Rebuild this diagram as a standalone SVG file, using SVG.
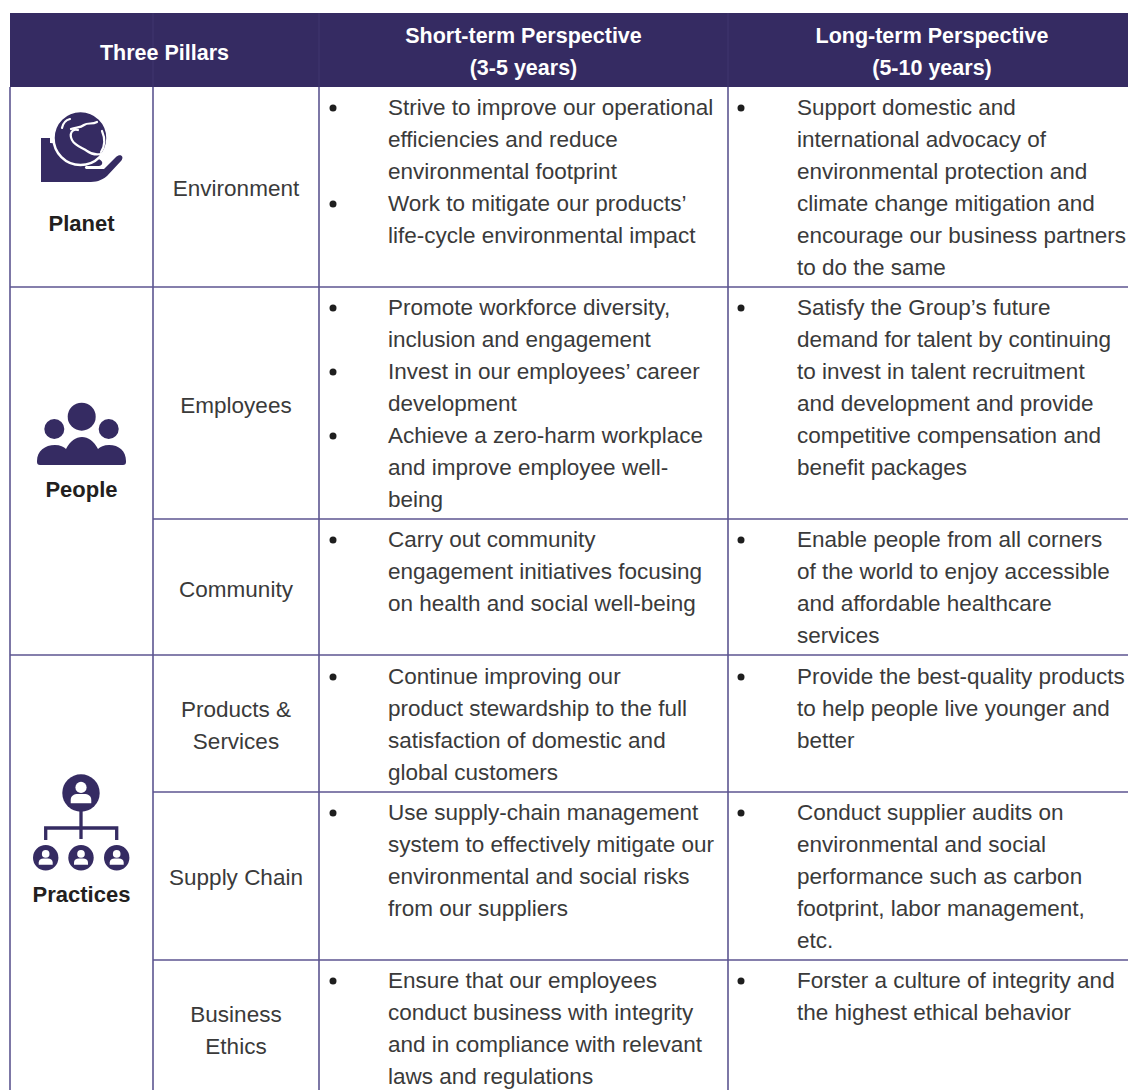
<svg xmlns="http://www.w3.org/2000/svg" xmlns:xlink="http://www.w3.org/1999/xlink" width="1128" height="1090" viewBox="0 0 1128 1090">
<style>
.t{font-family:"Liberation Sans",Arial,sans-serif;font-size:22.5px;fill:#3a3a3a}
.c{text-anchor:middle}
.h{font-family:"Liberation Sans",Arial,sans-serif;font-size:21.5px;font-weight:bold;fill:#ffffff;text-anchor:middle}
.p{font-family:"Liberation Sans",Arial,sans-serif;font-size:22px;font-weight:bold;fill:#231f20;text-anchor:middle}
.g{stroke:#5c5590;stroke-width:1.6;fill:none}
.b{fill:#1e1e1e}
.ic{fill:#352b62}
.w{fill:none;stroke:#ffffff;stroke-width:2.2;stroke-linecap:round}
</style>
<defs>
<g id="avatar">
<circle r="1" class="ic"/>
<circle cx="0" cy="-0.3" r="0.3" fill="#fff"/>
<path d="M-0.55,0.55 L-0.55,0.38 C-0.55,0.16 -0.38,0.06 -0.16,0.06 L0.16,0.06 C0.38,0.06 0.55,0.16 0.55,0.38 L0.55,0.55 Z" fill="#fff"/>
</g>
<circle id="dot" r="3.5" class="b"/>
</defs>
<rect width="1128" height="1090" fill="#ffffff"/>

<g id="header">
<rect x="10" y="13" width="1118" height="74" fill="#352b62"/>
<line x1="153" y1="13" x2="153" y2="87" stroke="#40376e" stroke-width="1"/>
<line x1="319" y1="13" x2="319" y2="87" stroke="#40376e" stroke-width="1"/>
<line x1="728" y1="13" x2="728" y2="87" stroke="#40376e" stroke-width="1"/>
<text class="h" x="164.5" y="60">Three Pillars</text>
<text class="h" x="523.5" y="43">Short-term Perspective</text>
<text class="h" x="523.5" y="75">(3-5 years)</text>
<text class="h" x="932" y="43">Long-term Perspective</text>
<text class="h" x="932" y="75">(5-10 years)</text>
</g>

<g id="grid">
<line class="g" x1="10" y1="87" x2="10" y2="1090"/>
<line class="g" x1="153" y1="87" x2="153" y2="1090"/>
<line class="g" x1="319" y1="87" x2="319" y2="1090"/>
<line class="g" x1="728" y1="87" x2="728" y2="1090"/>
<line class="g" x1="10" y1="287" x2="1128" y2="287"/>
<line class="g" x1="153" y1="519" x2="1128" y2="519"/>
<line class="g" x1="10" y1="655" x2="1128" y2="655"/>
<line class="g" x1="153" y1="792" x2="1128" y2="792"/>
<line class="g" x1="153" y1="960" x2="1128" y2="960"/>
</g>

<g id="pillar-planet">
<rect x="41" y="138" width="9" height="44" class="ic"/>
<path class="ic" d="M50,143 C60,143 67,150 75,156 L98,159 C103,160 104,165 99,166 L86,166 C84,167 85,169 87,169 L104,169 L116,157 C120,153 125,156 121,161 L107,176 C101,181 96,182 88,182 L50,182 Z"/>
<circle cx="80.5" cy="138" r="27" class="ic" stroke="#fff" stroke-width="2.5"/>
<path class="w" d="M78,130 C72,128 69,134 72,140 C75,146 83,148 87,151 C91,154 96,155 101,154"/>
<path class="w" d="M71,129 C76,127 80,128 84,125 C88,122 92,125 97,122"/>
<path class="w" d="M62,128 C63,123 66,120 70,119"/>
<path class="w" d="M102,131 C105,138 105,146 101,152"/>
<text class="p" x="81.5" y="231">Planet</text>
</g>

<g id="pillar-people">
<circle cx="81.7" cy="416.7" r="14" class="ic"/>
<circle cx="54.3" cy="429" r="10" class="ic"/>
<circle cx="108.7" cy="429" r="10" class="ic"/>
<path class="ic" d="M37,461 C37,451 45,445 55,445 C60,445 64,447 66,449 C70,441 76,437 82,437 C88,437 94,441 98,449 C100,447 104,445 109,445 C119,445 126,451 126,461 L126,462 Q126,465 123,465 L40,465 Q37,465 37,462 Z"/>
<text class="p" x="81.5" y="497">People</text>
</g>

<g id="pillar-practices">
<use xlink:href="#avatar" href="#avatar" transform="translate(81,793) scale(18.7)"/>
<path d="M81,811 V839 M45.7,840 V828 H116.7 V840" fill="none" stroke="#352b62" stroke-width="3.3"/>
<use xlink:href="#avatar" href="#avatar" transform="translate(45.7,857.7) scale(12.7)"/>
<use xlink:href="#avatar" href="#avatar" transform="translate(81,857.7) scale(12.7)"/>
<use xlink:href="#avatar" href="#avatar" transform="translate(116.7,857.7) scale(12.7)"/>
<text class="p" x="81.5" y="902">Practices</text>
</g>

<g id="row-environment">
<text class="t c" x="236" y="196">Environment</text>
<use href="#dot" xlink:href="#dot" x="333" y="108"/>
<use href="#dot" xlink:href="#dot" x="333" y="204"/>
<text class="t" x="388" y="115">Strive to improve our operational</text>
<text class="t" x="388" y="147">efficiencies and reduce</text>
<text class="t" x="388" y="179">environmental footprint</text>
<text class="t" x="388" y="211">Work to mitigate our products’</text>
<text class="t" x="388" y="243">life-cycle environmental impact</text>
<use href="#dot" xlink:href="#dot" x="741" y="108"/>
<text class="t" x="797" y="115">Support domestic and</text>
<text class="t" x="797" y="147">international advocacy of</text>
<text class="t" x="797" y="179">environmental protection and</text>
<text class="t" x="797" y="211">climate change mitigation and</text>
<text class="t" x="797" y="243">encourage our business partners</text>
<text class="t" x="797" y="275">to do the same</text>
</g>

<g id="row-employees">
<text class="t c" x="236" y="413">Employees</text>
<use href="#dot" xlink:href="#dot" x="333" y="308"/>
<use href="#dot" xlink:href="#dot" x="333" y="372"/>
<use href="#dot" xlink:href="#dot" x="333" y="436"/>
<text class="t" x="388" y="315">Promote workforce diversity,</text>
<text class="t" x="388" y="347">inclusion and engagement</text>
<text class="t" x="388" y="379">Invest in our employees’ career</text>
<text class="t" x="388" y="411">development</text>
<text class="t" x="388" y="443">Achieve a zero-harm workplace</text>
<text class="t" x="388" y="475">and improve employee well-</text>
<text class="t" x="388" y="507">being</text>
<use href="#dot" xlink:href="#dot" x="741" y="308"/>
<text class="t" x="797" y="315">Satisfy the Group’s future</text>
<text class="t" x="797" y="347">demand for talent by continuing</text>
<text class="t" x="797" y="379">to invest in talent recruitment</text>
<text class="t" x="797" y="411">and development and provide</text>
<text class="t" x="797" y="443">competitive compensation and</text>
<text class="t" x="797" y="475">benefit packages</text>
</g>

<g id="row-community">
<text class="t c" x="236" y="597">Community</text>
<use href="#dot" xlink:href="#dot" x="333" y="540"/>
<text class="t" x="388" y="547">Carry out community</text>
<text class="t" x="388" y="579">engagement initiatives focusing</text>
<text class="t" x="388" y="611">on health and social well-being</text>
<use href="#dot" xlink:href="#dot" x="741" y="540"/>
<text class="t" x="797" y="547">Enable people from all corners</text>
<text class="t" x="797" y="579">of the world to enjoy accessible</text>
<text class="t" x="797" y="611">and affordable healthcare</text>
<text class="t" x="797" y="643">services</text>
</g>

<g id="row-products">
<text class="t c" x="236" y="717">Products &amp;</text>
<text class="t c" x="236" y="749">Services</text>
<use href="#dot" xlink:href="#dot" x="333" y="677"/>
<text class="t" x="388" y="684">Continue improving our</text>
<text class="t" x="388" y="716">product stewardship to the full</text>
<text class="t" x="388" y="748">satisfaction of domestic and</text>
<text class="t" x="388" y="780">global customers</text>
<use href="#dot" xlink:href="#dot" x="741" y="677"/>
<text class="t" x="797" y="684">Provide the best-quality products</text>
<text class="t" x="797" y="716">to help people live younger and</text>
<text class="t" x="797" y="748">better</text>
</g>

<g id="row-supply">
<text class="t c" x="236" y="885">Supply Chain</text>
<use href="#dot" xlink:href="#dot" x="333" y="813"/>
<text class="t" x="388" y="820">Use supply-chain management</text>
<text class="t" x="388" y="852">system to effectively mitigate our</text>
<text class="t" x="388" y="884">environmental and social risks</text>
<text class="t" x="388" y="916">from our suppliers</text>
<use href="#dot" xlink:href="#dot" x="741" y="813"/>
<text class="t" x="797" y="820">Conduct supplier audits on</text>
<text class="t" x="797" y="852">environmental and social</text>
<text class="t" x="797" y="884">performance such as carbon</text>
<text class="t" x="797" y="916">footprint, labor management,</text>
<text class="t" x="797" y="948">etc.</text>
</g>

<g id="row-ethics">
<text class="t c" x="236" y="1022">Business</text>
<text class="t c" x="236" y="1054">Ethics</text>
<use href="#dot" xlink:href="#dot" x="333" y="981"/>
<text class="t" x="388" y="988">Ensure that our employees</text>
<text class="t" x="388" y="1020">conduct business with integrity</text>
<text class="t" x="388" y="1052">and in compliance with relevant</text>
<text class="t" x="388" y="1084">laws and regulations</text>
<use href="#dot" xlink:href="#dot" x="741" y="981"/>
<text class="t" x="797" y="988">Forster a culture of integrity and</text>
<text class="t" x="797" y="1020">the highest ethical behavior</text>
</g>
</svg>
